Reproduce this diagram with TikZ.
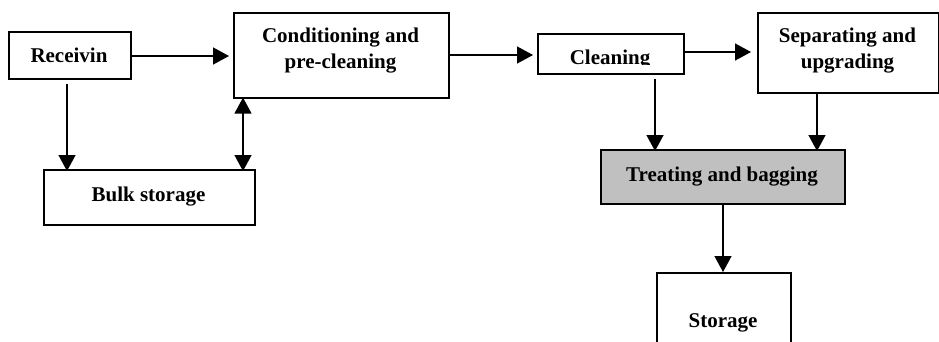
\documentclass[tikz,border=0pt]{standalone}
\usepackage{fontspec}
\setmainfont{Liberation Serif}
\usetikzlibrary{arrows.meta}
\begin{document}
\begin{tikzpicture}[x=1pt,y=-1pt,
  box/.style={draw=black,line width=1.6pt,fill=white,inner sep=0pt,anchor=north west},
  lbl/.style={font=\fontsize{21}{26}\selectfont\bfseries,inner sep=0pt,anchor=base},
  arr/.style={line width=1.4pt,-{Triangle[length=16pt,width=17pt]}},
  darr/.style={line width=1.4pt,{Triangle[length=16pt,width=17pt]}-{Triangle[length=16pt,width=17pt]}}]
\useasboundingbox (0,0) rectangle (939,341);
\begin{scope}
\clip (0,0) rectangle (939,341);
% boxes
\node[box,minimum width=122pt,minimum height=47pt] (rec) at (8,31) {};
\node[box,minimum width=215pt,minimum height=85pt] (con) at (233,12) {};
\node[box,minimum width=146pt,minimum height=40pt] (cle) at (537,33) {};
\node[box,minimum width=181pt,minimum height=80pt] (sep) at (757,12) {};
\node[box,minimum width=211pt,minimum height=55pt] (bulk) at (43,169) {};
\node[box,fill={rgb,255:red,192;green,192;blue,192},minimum width=244pt,minimum height=54pt] (tre) at (600,149) {};
\node[box,minimum width=134pt,minimum height=90pt] (sto) at (656,272) {};
% labels
\node[lbl] (trec) at (69,62) {Receivin};
\node[lbl] (tcon1) at (340.5,42) {Conditioning and};
\node[lbl] (tcon2) at (340.5,68) {pre-cleaning};
\begin{scope}
\clip (537,33) rectangle (683,64.5);
\node[lbl] (tcle) at (610,64) {Cleaning};
\end{scope}
\node[lbl] (tsep1) at (847.5,42) {Separating and};
\node[lbl] (tsep2) at (847.5,68) {upgrading};
\node[lbl] (tbulk) at (148.5,201) {Bulk storage};
\node[lbl] (ttre) at (722,181) {Treating and bagging};
\node[lbl] (tsto) at (723,327) {Storage};
\end{scope}
% connectors
\draw[arr] (rec.east |- 0,56) -- ([xshift=-4pt]con.west |- 0,56);
\draw[arr] (con.east |- 0,55) -- ([xshift=-4pt]cle.west |- 0,55);
\draw[arr] (cle.east |- 0,52) -- ([xshift=-6pt]sep.west |- 0,52);
\draw[arr] ([yshift=-4pt]rec.south -| 67,0) -- ([yshift=-2pt]bulk.north -| 67,0);
\draw[darr] ([yshift=1pt]con.south -| 243,0) -- ([yshift=-2pt]bulk.north -| 243,0);
\draw[arr] ([yshift=-4pt]cle.south -| 655,0) -- ([yshift=-2pt]tre.north -| 655,0);
\draw[arr] (sep.south -| 817,0) -- ([yshift=-2pt]tre.north -| 817,0);
\draw[arr] (tre.south -| 723,0) -- (sto.north -| 723,0);
\end{tikzpicture}
\end{document}
